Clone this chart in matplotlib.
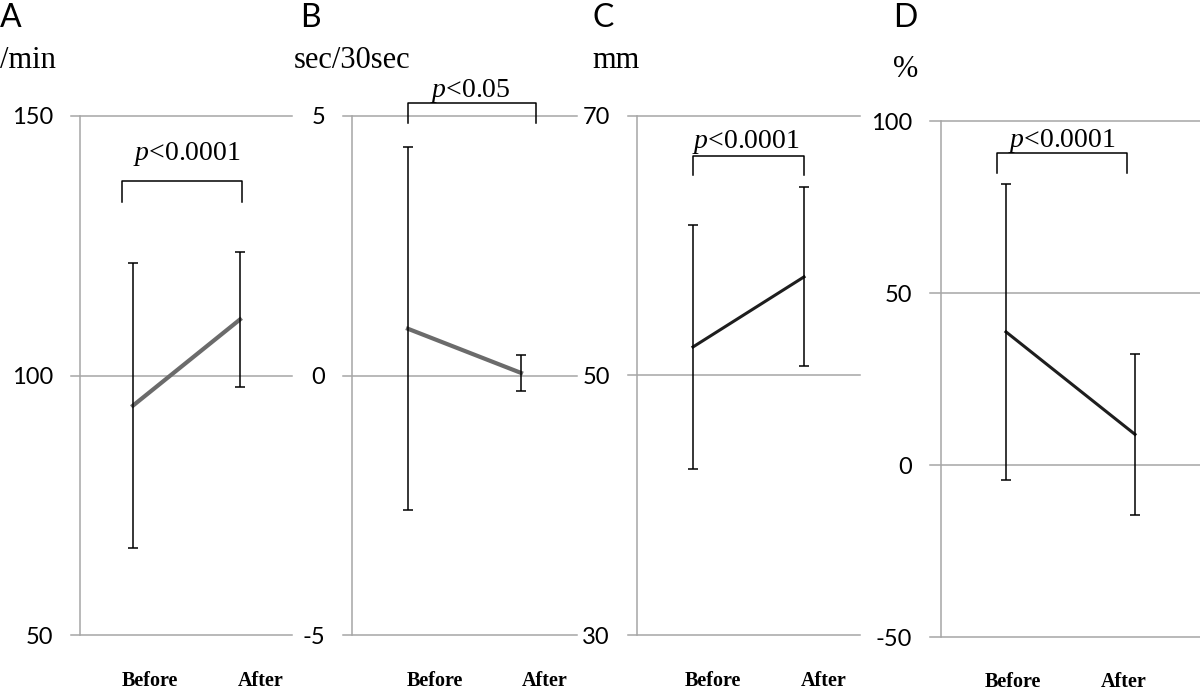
import matplotlib
matplotlib.use('Agg')
import matplotlib.pyplot as plt

plt.rcParams['mathtext.fontset'] = 'custom'
plt.rcParams['mathtext.it'] = 'Liberation Serif:italic'
plt.rcParams['mathtext.rm'] = 'Liberation Serif'

# ---- data ----
panel_letters = ['A', 'B', 'C', 'D']
units = ['/min', 'sec/30sec', 'mm', '%']
groups = ['Before', 'After']

means_a = [94.2, 110.8]
sd_a = [27.4, 13.0]
means_b = [0.9, 0.05]
sd_b = [3.5, 0.35]
means_c = [52.2, 57.6]
sd_c = [9.4, 6.9]
means_d = [38.7, 8.9]
sd_d = [43.0, 23.4]

p_values = ['<0.0001', '<0.05', '<0.0001', '<0.0001']
y_ticks = [[50, 100, 150], [-5, 0, 5], [30, 50, 70], [-50, 0, 50, 100]]

means = [means_a, means_b, means_c, means_d]
sds = [sd_a, sd_b, sd_c, sd_d]
line_colors = ['#6b6b6b', '#6b6b6b', '#1e1e1e', '#1e1e1e']
line_widths = [3.0, 3.0, 2.2, 2.2]

# ---- layout in pixels: line start, line end, spine, before x, after x, top, bottom ----
W, H = 1200, 691
layout = [
    (71, 292, 80, 133, 240, 116, 635),
    (343, 577, 352, 408, 521, 116, 635),
    (628, 860, 637, 693, 804, 116, 635),
    (930, 1200, 941, 1006, 1135, 121, 637),
]
# bracket (x left, x right, y top, y leg end) and p text (x, y) in data units
brackets = [(-0.10, 1.02, 137.5, 133.5), (0.0, 1.13, 5.25, 4.87),
            (0.0, 1.0, 66.9, 65.45), (-0.07, 0.94, 90.7, 84.9)]
p_pos = [(0.5, 141.5), (0.55, 5.37), (0.48, 67.53), (0.43, 92.4)]
xlabel_pos = [(0.16, 1.19), (0.24, 1.21), (0.18, 1.18), (0.05, 0.91)]
letter_x = [0, 300, 592, 893]
unit_pos = [(0, 68), (294, 68), (592, 68), (893, 77)]

grid_color = '#a6a6a6'

fig = plt.figure(figsize=(W / 100, H / 100), dpi=100)

for i in range(4):
    x0, x1, sp, xb, xa, yt, yb = layout[i]
    ax = fig.add_axes([x0 / W, 1 - yb / H, (x1 - x0) / W, (yb - yt) / H])
    unit = xa - xb
    ax.set_xlim((x0 - xb) / unit, (x1 - xb) / unit)
    ax.set_ylim(y_ticks[i][0], y_ticks[i][-1])
    for s in ax.spines.values():
        s.set_visible(False)

    ax.set_yticks(y_ticks[i])
    ax.set_yticklabels([str(t) for t in y_ticks[i]], fontfamily='Lato', fontsize=17)
    ax.tick_params(axis='y', length=0, pad=13)
    ax.yaxis.grid(True, color=grid_color, lw=1.1)
    for gl in ax.get_ygridlines():
        gl.set_clip_on(False)
    ax.axvline((sp - xb) / unit, color=grid_color, lw=1.1, clip_on=False)

    ax.set_xticks(list(xlabel_pos[i]))
    ax.set_xticklabels(groups, fontfamily='Liberation Serif', fontweight='bold', fontsize=14.5)
    ax.tick_params(axis='x', length=0, pad=26 if i < 3 else 25)

    xs = [0, 1]
    ax.plot(xs, means[i], color=line_colors[i], lw=line_widths[i], zorder=3, clip_on=False)
    ax.errorbar(xs, means[i], yerr=sds[i], fmt='none', ecolor='black', elinewidth=1.1,
                capsize=3.3, capthick=1.1, zorder=4, clip_on=False)

    bl, br, btop, bend = brackets[i]
    ax.plot([bl, bl, br, br], [bend, btop, btop, bend], color='black', lw=1.1, clip_on=False)
    px, py = p_pos[i]
    ax.text(px, py, '$p$' + p_values[i], ha='center', va='baseline',
            fontfamily='Liberation Serif', fontsize=20, clip_on=False)

    fig.text(letter_x[i] / W, 1 - 27 / H, panel_letters[i], fontfamily='Lato',
             fontsize=23, va='baseline', ha='left')
    ux, uy = unit_pos[i]
    fig.text(ux / W, 1 - uy / H, units[i], fontfamily='Liberation Serif',
             fontsize=22, va='baseline', ha='left')

fig.savefig('out.png', dpi=100)
